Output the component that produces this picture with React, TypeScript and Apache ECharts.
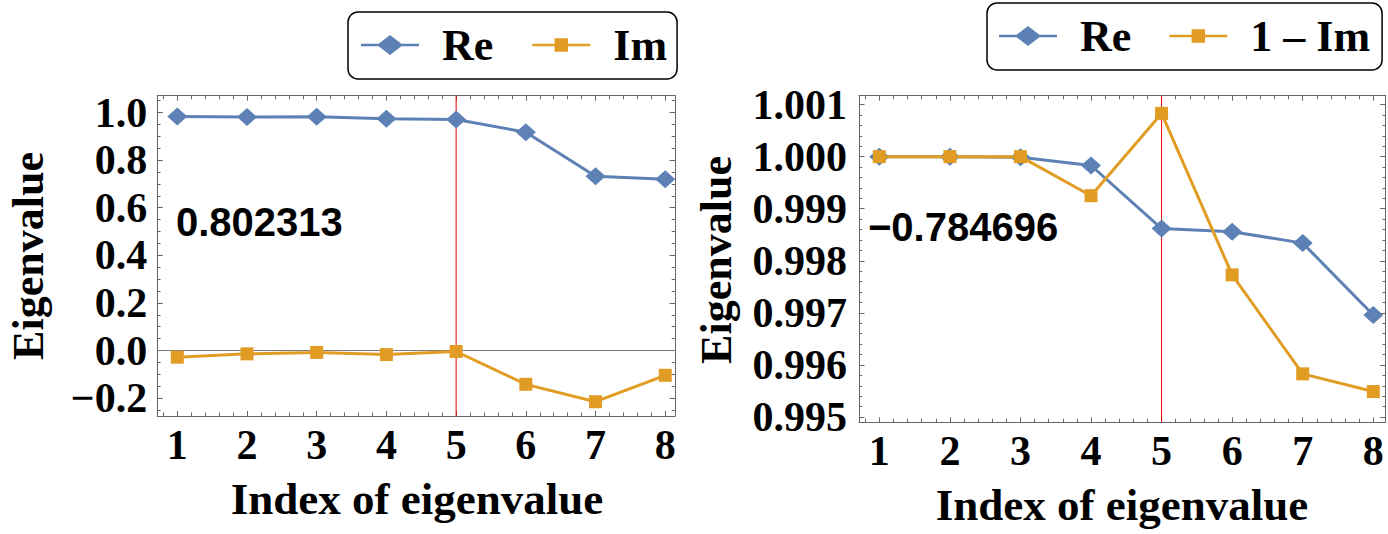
import React, { useEffect, useRef } from 'react';
import * as echarts from 'echarts';

// ---------- data ----------
const indices = [1, 2, 3, 4, 5, 6, 7, 8];
const leftRe = [0.983, 0.981, 0.982, 0.974, 0.971, 0.917, 0.732, 0.72];
const leftIm = [-0.028, -0.014, -0.008, -0.017, -0.004, -0.142, -0.215, -0.104];
const rightRe = [1.0, 1.0, 0.99999, 0.99983, 0.99862, 0.99856, 0.99834, 0.99696];
const rightOneMinusIm = [1.0, 1.0, 1.0, 0.99925, 1.00083, 0.99773, 0.99583, 0.99549];
const xTicks = [1, 2, 3, 4, 5, 6, 7, 8];
const leftYTicks = [-0.2, 0, 0.2, 0.4, 0.6, 0.8, 1.0];
const rightYTicks = [0.995, 0.996, 0.997, 0.998, 0.999, 1.0, 1.001];
const leftLegend = ['Re', 'Im'];
const rightLegend = ['Re', '1 \u2013 Im'];
const leftAnnotation = '0.802313';
const rightAnnotation = '\u22120.784696';
const dividerIndex = 5;
const xTitle = 'Index of eigenvalue';
const yTitle = 'Eigenvalue';

// ---------- styles ----------
const BLUE = '#5E81B5';
const ORANGE = '#E19C24';
const FRAME = '#666666';
const SERIF = 'Liberation Serif';
const SANS = 'Liberation Sans';

const L = { xMin: 0.713, xMax: 8.14, yMin: -0.275, yMax: 1.0706 };
const R = { xMin: 0.712, xMax: 8.176, yMin: 0.9949, yMax: 1.00117 };

function minorTicks(start: number, end: number, step: number, every: number, digits: number, lo: number, hi: number) {
  const out: number[] = [];
  const n = Math.round((end - start) / step);
  for (let i = 0; i <= n; i++) {
    if (i % every === 0) continue;
    const v = +(start + i * step).toFixed(digits);
    if (v > lo && v < hi) out.push(v);
  }
  return out;
}

const labelFont = { fontFamily: SERIF, fontWeight: 'bold' as const, fontSize: 42, color: '#000' };

function makeAxes(
  dim: 'x' | 'y',
  gridIndex: number,
  min: number,
  max: number,
  major: number[],
  minor: number[],
  formatter: (v: number) => string,
  margin: number,
  majorLen: number,
  minorLen: number
) {
  const sides = dim === 'x' ? ['bottom', 'top'] : ['left', 'right'];
  const axes: any[] = [];
  sides.forEach((pos, si) => {
    [true, false].forEach((isMajor) => {
      axes.push({
        type: 'value',
        gridIndex,
        position: pos,
        min,
        max,
        axisLine: { show: isMajor, onZero: false, lineStyle: { color: FRAME, width: 1 } },
        axisTick: {
          show: true,
          inside: true,
          length: isMajor ? majorLen : minorLen,
          customValues: isMajor ? major : minor,
          lineStyle: { color: FRAME, width: 1 },
        },
        axisLabel: {
          show: si === 0 && isMajor,
          customValues: major,
          formatter,
          margin,
          ...labelFont,
        },
        splitLine: { show: false },
      });
    });
  });
  return axes;
}

const fmtX = (v: number) => String(Math.round(v));
const fmtLY = (v: number) => v.toFixed(1).replace('-', '\u2212');
const fmtRY = (v: number) => v.toFixed(3);

const xAxes = [
  ...makeAxes('x', 0, L.xMin, L.xMax, xTicks, minorTicks(0, 9, 0.2, 5, 2, L.xMin, L.xMax), fmtX, 8, 5, 3.5),
  ...makeAxes('x', 1, R.xMin, R.xMax, xTicks, minorTicks(0, 9, 0.2, 5, 2, R.xMin, R.xMax), fmtX, 8, 5, 3.5),
];
const yAxes = [
  ...makeAxes('y', 0, L.yMin, L.yMax, leftYTicks, minorTicks(-0.4, 1.2, 0.05, 4, 3, L.yMin, L.yMax), fmtLY, 10, 5.5, 3.3),
  ...makeAxes('y', 1, R.yMin, R.yMax, rightYTicks, minorTicks(0.994, 1.002, 0.0002, 5, 4, R.yMin, R.yMax), fmtRY, 12, 5.5, 3.3),
];

const pairs = (xs: number[], ys: number[]) => xs.map((x, i) => [x, ys[i]]);

const DIAMOND_ICON = 'path://M0 8.75 H58 V11.25 H0 Z M16 10 L29 0 L42 10 L29 20 Z';
const SQUARE_ICON = 'path://M0 5.5 H58 V8 H0 Z M22.25 0 H35.75 V13.5 H22.25 Z';

function lineSeries(name: string, grid: number, data: number[][], color: string, symbol: string, size: any, z: number) {
  return {
    name,
    type: 'line',
    xAxisIndex: grid * 4,
    yAxisIndex: grid * 4,
    data,
    symbol,
    symbolSize: size,
    showAllSymbol: true,
    lineStyle: { color, width: 3 },
    itemStyle: { color, borderWidth: 0 },
    z,
    silent: true,
  };
}

function guide(grid: number, data: number[][], color: string) {
  return {
    name: '__guide' + grid + color,
    type: 'line',
    xAxisIndex: grid * 4,
    yAxisIndex: grid * 4,
    data,
    symbol: 'none',
    lineStyle: { color, width: 1 },
    z: 1,
    silent: true,
  };
}

const legendBase = {
  orient: 'horizontal',
  itemWidth: 58,
  itemHeight: 20,
  padding: [8, 10, 9, 13],
  borderColor: '#000',
  borderWidth: 1.5,
  borderRadius: 10,
  selectedMode: false,
  itemStyle: { borderWidth: 0 },
  textStyle: {
    fontFamily: SERIF,
    fontWeight: 'bold',
    fontSize: 44,
    lineHeight: 50,
    color: '#000',
    padding: [0, 0, 0, 18],
  },
};

const titleStyle = { fontFamily: SERIF, fontWeight: 'bold', fontSize: 45, fill: '#000', align: 'center', verticalAlign: 'middle' };
const yTitleStyle = { fontFamily: SERIF, fontWeight: 'bold', fontSize: 44, fill: '#000', align: 'center', verticalAlign: 'middle' };
const noteStyle = { fontFamily: SANS, fontWeight: 'bold', fontSize: 40, fill: '#000', align: 'left', verticalAlign: 'middle' };

const option: any = {
  animation: false,
  backgroundColor: '#fff',
  grid: [
    { left: 157.3, top: 95.7, width: 517.7, height: 320.3, containLabel: false },
    { left: 859, top: 95.7, width: 526.7, height: 326.6, containLabel: false },
  ],
  xAxis: xAxes,
  yAxis: yAxes,
  legend: [
    {
      ...legendBase,
      left: 348,
      top: 12,
      itemGap: 39,
      data: [
        { name: leftLegend[0], icon: DIAMOND_ICON },
        { name: leftLegend[1], icon: SQUARE_ICON },
      ],
    },
    {
      ...legendBase,
      left: 987,
      top: 3,
      itemGap: 38,
      padding: [8, 12, 9, 12],
      data: [
        { name: rightLegend[0], icon: DIAMOND_ICON },
        { name: rightLegend[1], icon: SQUARE_ICON },
      ],
    },
  ],
  series: [
    guide(0, [[dividerIndex, L.yMin], [dividerIndex, L.yMax]], '#ee0000'),
    guide(0, [[L.xMin, 0], [L.xMax, 0]], '#777777'),
    lineSeries(leftLegend[0], 0, pairs(indices, leftRe), BLUE, 'diamond', [20, 18], 3),
    lineSeries(leftLegend[1], 0, pairs(indices, leftIm), ORANGE, 'rect', 13, 4),
    guide(1, [[dividerIndex, R.yMin], [dividerIndex, R.yMax]], '#ee0000'),
    lineSeries(rightLegend[0], 1, pairs(indices, rightRe), BLUE, 'diamond', [20, 18], 3),
    lineSeries(rightLegend[1], 1, pairs(indices, rightOneMinusIm), ORANGE, 'rect', 13, 4),
  ],
  graphic: [
    { type: 'text', x: 28, y: 256, rotation: Math.PI / 2, style: { text: yTitle, ...yTitleStyle } },
    { type: 'text', x: 716, y: 260, rotation: Math.PI / 2, style: { text: yTitle, ...yTitleStyle } },
    { type: 'text', x: 417, y: 499, style: { text: xTitle, ...titleStyle } },
    { type: 'text', x: 1122, y: 505, style: { text: xTitle, ...titleStyle } },
    { type: 'text', x: 176, y: 222, style: { text: leftAnnotation, ...noteStyle } },
    { type: 'text', x: 868, y: 227, style: { text: rightAnnotation, ...noteStyle } },
  ],
};

export default function App() {
  const ref = useRef<HTMLDivElement>(null);
  useEffect(() => {
    if (!ref.current) return;
    const chart = echarts.init(ref.current, null, { renderer: 'svg' });
    chart.setOption(option);
    return () => chart.dispose();
  }, []);
  return (
    <div
      ref={ref}
      style={{ position: 'absolute', left: 0, top: 0, width: 1388, height: 534, background: '#fff' }}
    />
  );
}
